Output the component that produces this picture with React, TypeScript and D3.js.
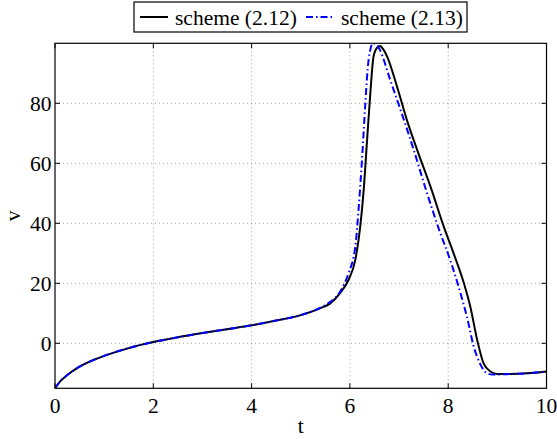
import { useEffect, useRef } from "react";
import * as d3 from "d3";

// scheme (2.12), solid black
const tBlack = [0, 0.1, 0.25, 0.5, 0.75, 1, 1.5, 2, 2.5, 3, 3.5, 4, 4.5, 5, 5.4, 5.6, 5.8, 5.97, 6.11, 6.21, 6.28, 6.35, 6.42, 6.48, 6.55, 6.61, 6.68, 6.76, 6.96, 7.16, 7.37, 7.64, 7.91, 8.11, 8.32, 8.45, 8.59, 8.72, 8.86, 9.0, 9.3, 9.6, 10];
const vBlack = [-15, -12.8, -10.6, -7.8, -5.8, -4.2, -1.6, 0.4, 2, 3.4, 4.7, 6, 7.6, 9.4, 11.7, 13.3, 16.7, 21.1, 27.8, 38.9, 51, 67.8, 84.4, 95.5, 98.5, 99.1, 98, 95.5, 85.5, 74.4, 64.4, 52.2, 38.9, 30, 20, 12.2, 1.1, -6.7, -9.4, -10.2, -10.2, -10, -9.4];

// scheme (2.13), blue dash-dot
const tBlue = [0, 0.1, 0.25, 0.5, 0.75, 1, 1.5, 2, 2.5, 3, 3.5, 4, 4.5, 5, 5.4, 5.6, 5.8, 5.97, 6.11, 6.18, 6.25, 6.31, 6.38, 6.47, 6.54, 6.61, 6.82, 7.03, 7.3, 7.57, 7.84, 8.04, 8.25, 8.38, 8.52, 8.66, 8.79, 8.9, 9.0, 9.3, 9.6, 10];
const vBlue = [-15, -12.8, -10.6, -7.8, -5.8, -4.2, -1.6, 0.4, 2, 3.4, 4.7, 6, 7.6, 9.4, 11.9, 13.8, 17.2, 23.3, 32.2, 45.5, 62.2, 78.9, 94.4, 100, 99.6, 97.8, 87.8, 77.8, 64.4, 50, 36.7, 27.8, 16.7, 8.9, -1.1, -7.2, -10, -10.4, -10.4, -10.2, -10, -9.4];

const xTicks = [0, 2, 4, 6, 8, 10];
const yTicks = [0, 20, 40, 60, 80];
const legendLabels = ["scheme (2.12)", "scheme (2.13)"];

const App = () => {
  const svgRef = useRef(null);

  useEffect(() => {
    d3.select(svgRef.current).selectAll("*").remove();

    const width = 557;
    const height = 439;
    const margin = { top: 43.3, right: 10.5, bottom: 50.7, left: 55 };
    const font = "Liberation Serif, Times New Roman, Times, serif";
    const fs = 21.5;

    const x = d3.scaleLinear().domain([0, 10]).range([margin.left, width - margin.right]);
    const y = d3.scaleLinear().domain([-15, 100]).range([height - margin.bottom, margin.top]);

    const svg = d3.select(svgRef.current).attr("width", width).attr("height", height);

    svg.append("rect").attr("width", width).attr("height", height).attr("fill", "white");

    svg
      .append("defs")
      .append("clipPath")
      .attr("id", "plot-clip")
      .append("rect")
      .attr("x", x(0))
      .attr("y", y(100))
      .attr("width", x(10) - x(0))
      .attr("height", y(-15) - y(100));

    // Grid
    const grid = svg.append("g").attr("stroke", "#8c8c8c").attr("stroke-width", 0.8).attr("stroke-dasharray", "1,3");
    xTicks.slice(1, -1).forEach((t) => {
      grid.append("line").attr("x1", x(t)).attr("x2", x(t)).attr("y1", y(-15)).attr("y2", y(100));
    });
    yTicks.forEach((v) => {
      grid.append("line").attr("x1", x(0)).attr("x2", x(10)).attr("y1", y(v)).attr("y2", y(v));
    });

    // Curves
    const line = d3
      .line<[number, number]>()
      .x((d) => x(d[0]))
      .y((d) => y(d[1]))
      .curve(d3.curveMonotoneX);

    const plot = svg.append("g").attr("clip-path", "url(#plot-clip)");

    plot
      .append("path")
      .datum(tBlack.map((t, i) => [t, vBlack[i]] as [number, number]))
      .attr("fill", "none")
      .attr("stroke", "black")
      .attr("stroke-width", 2)
      .attr("d", line);

    plot
      .append("path")
      .datum(tBlue.map((t, i) => [t, vBlue[i]] as [number, number]))
      .attr("fill", "none")
      .attr("stroke", "#0000ff")
      .attr("stroke-width", 2)
      .attr("stroke-dasharray", "7,3,1.5,3")
      .attr("d", line);

    // Box and ticks
    svg
      .append("rect")
      .attr("x", x(0))
      .attr("y", y(100))
      .attr("width", x(10) - x(0))
      .attr("height", y(-15) - y(100))
      .attr("fill", "none")
      .attr("stroke", "black")
      .attr("stroke-width", 1.2);

    const ticks = svg.append("g").attr("stroke", "black").attr("stroke-width", 1);
    const tl = 5;
    xTicks.forEach((t) => {
      ticks.append("line").attr("x1", x(t)).attr("x2", x(t)).attr("y1", y(-15)).attr("y2", y(-15) - tl);
      ticks.append("line").attr("x1", x(t)).attr("x2", x(t)).attr("y1", y(100)).attr("y2", y(100) + tl);
    });
    yTicks.forEach((v) => {
      ticks.append("line").attr("x1", x(0)).attr("x2", x(0) + tl).attr("y1", y(v)).attr("y2", y(v));
      ticks.append("line").attr("x1", x(10)).attr("x2", x(10) - tl).attr("y1", y(v)).attr("y2", y(v));
    });

    // Tick labels
    xTicks.forEach((t) => {
      svg
        .append("text")
        .attr("x", x(t))
        .attr("y", y(-15) + 25)
        .attr("text-anchor", "middle")
        .style("font-family", font)
        .attr("font-size", fs)
        .text(t);
    });
    yTicks.forEach((v) => {
      svg
        .append("text")
        .attr("x", x(0) - 3.5)
        .attr("y", y(v) + 7.3)
        .attr("text-anchor", "end")
        .style("font-family", font)
        .attr("font-size", fs)
        .text(v);
    });

    // Axis labels
    svg
      .append("text")
      .attr("x", (x(0) + x(10)) / 2)
      .attr("y", 433)
      .attr("text-anchor", "middle")
      .style("font-family", font)
      .attr("font-size", fs)
      .text("t");

    svg
      .append("text")
      .attr("transform", `translate(20,${(y(-15) + y(100)) / 2}) rotate(-90)`)
      .attr("text-anchor", "middle")
      .style("font-family", font)
      .attr("font-size", fs)
      .text("v");

    // Legend (NorthOutside, centred over the axes)
    const legend = svg.append("g");
    legend
      .append("rect")
      .attr("x", 134)
      .attr("y", 2)
      .attr("width", 333)
      .attr("height", 30)
      .attr("fill", "white")
      .attr("stroke", "black")
      .attr("stroke-width", 1.2);

    legend.append("line").attr("x1", 140).attr("x2", 168).attr("y1", 17).attr("y2", 17).attr("stroke", "black").attr("stroke-width", 2);
    legend
      .append("text")
      .attr("x", 175)
      .attr("y", 24.5)
      .style("font-family", font)
      .attr("font-size", fs)
      .text(legendLabels[0]);

    legend
      .append("line")
      .attr("x1", 306)
      .attr("x2", 334)
      .attr("y1", 17)
      .attr("y2", 17)
      .attr("stroke", "#0000ff")
      .attr("stroke-width", 2)
      .attr("stroke-dasharray", "7,3,1.5,3");
    legend
      .append("text")
      .attr("x", 341)
      .attr("y", 24.5)
      .style("font-family", font)
      .attr("font-size", fs)
      .text(legendLabels[1]);
  }, []);

  return <svg ref={svgRef} style={{ position: "absolute", left: 0, top: 0 }}></svg>;
};

export default App;
